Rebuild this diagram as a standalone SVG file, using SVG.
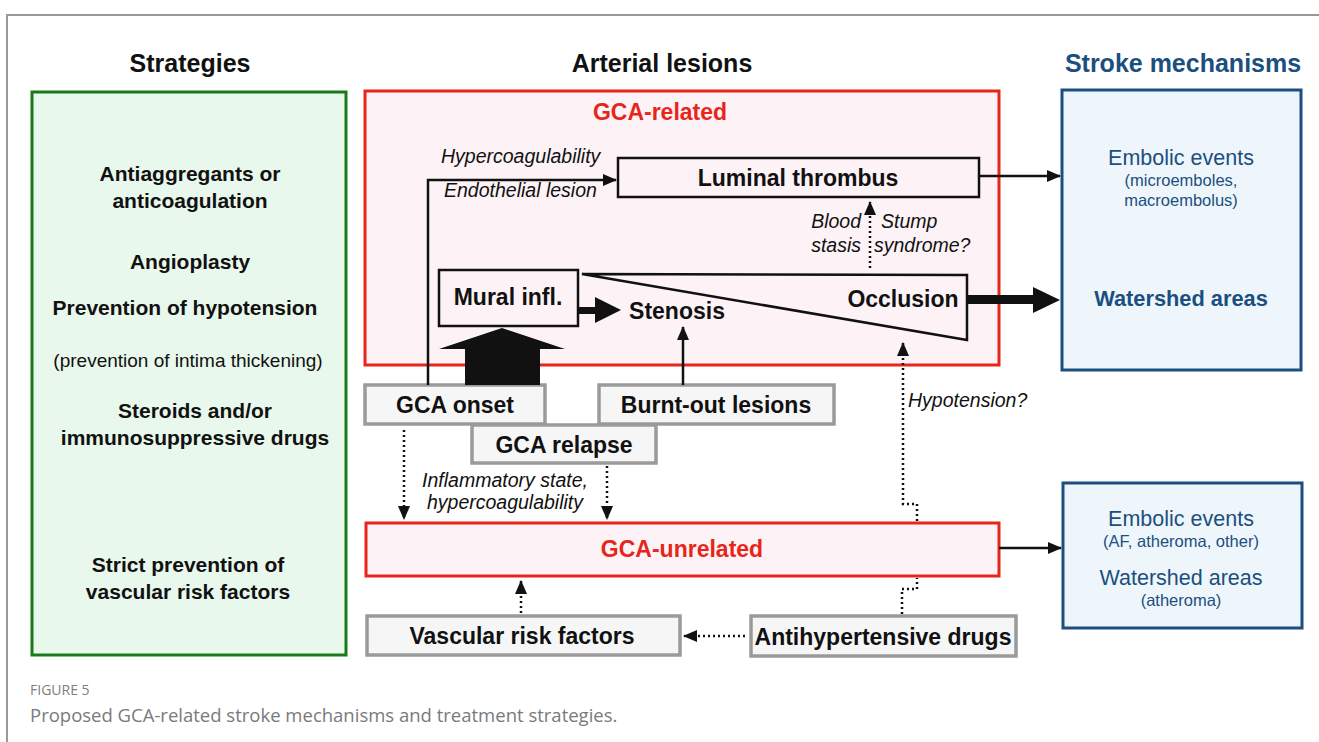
<svg xmlns="http://www.w3.org/2000/svg" width="1319" height="742" viewBox="0 0 1319 742">
<defs>
<style>
.hdr{font-family:"Liberation Sans",Arial,sans-serif;font-weight:bold;font-size:25px;text-anchor:middle}
.st{font-family:"Liberation Sans",Arial,sans-serif;font-weight:bold;font-size:21px;text-anchor:middle;fill:#111}
.nd{font-family:"Liberation Sans",Arial,sans-serif;font-weight:bold;font-size:23px;text-anchor:middle;fill:#111}
.it{font-family:"Liberation Sans",Arial,sans-serif;font-style:italic;font-size:19.5px;fill:#111}
.red{fill:#e8251a}
.blue{fill:#1b4f7f;font-family:"Liberation Sans",Arial,sans-serif;text-anchor:middle}
.box{fill:#fdf3f6;stroke:#111;stroke-width:2.5}
.gbox{fill:#f6f6f6;stroke:#9a9a9a;stroke-width:3.5}
.conn{fill:none;stroke:#111;stroke-width:2.5}
.dot{fill:none;stroke:#111;stroke-width:2.5;stroke-dasharray:2 3}
</style>
<marker id="ah" markerUnits="userSpaceOnUse" markerWidth="14" markerHeight="12" refX="13" refY="6" orient="auto">
<path d="M0,0 L14,6 L0,12 Z" fill="#111"/>
</marker>
</defs>
<rect x="0" y="0" width="1319" height="742" fill="#fff"/>
<path d="M7,742 V15 H1319" fill="none" stroke="#999" stroke-width="2"/>

<text class="hdr" x="190" y="72" fill="#111">Strategies</text>
<text class="hdr" x="662" y="72" fill="#111">Arterial lesions</text>
<text class="hdr" x="1183" y="72" fill="#1b4f7f">Stroke mechanisms</text>

<g id="strategies">
<rect x="32" y="92" width="314" height="563" fill="#e9f8ec" stroke="#1a7a1a" stroke-width="3"/>
<text class="st" x="190" y="181">Antiaggregants or</text>
<text class="st" x="190" y="208">anticoagulation</text>
<text class="st" x="190" y="269">Angioplasty</text>
<text class="st" x="185" y="315">Prevention of hypotension</text>
<text x="188" y="367" font-family="Liberation Sans, Arial, sans-serif" font-size="19" text-anchor="middle" fill="#111">(prevention of intima thickening)</text>
<text class="st" x="195" y="418">Steroids and/or</text>
<text class="st" x="195" y="445">immunosuppressive drugs</text>
<text class="st" x="188" y="572">Strict prevention of</text>
<text class="st" x="188" y="599">vascular risk factors</text>
</g>

<g id="gca-related">
<rect x="365" y="91" width="634" height="274" fill="#fdf3f6" stroke="#e8251a" stroke-width="3"/>
<text class="nd red" x="660" y="120" font-size="22">GCA-related</text>
</g>

<g id="luminal-thrombus">
<rect class="box" x="618" y="158" width="361" height="39"/>
<text class="nd" x="798" y="186">Luminal thrombus</text>
</g>

<g id="mural-infl">
<rect class="box" x="439" y="270" width="139" height="56"/>
<text class="nd" x="508" y="305">Mural infl.</text>
</g>

<g id="stenosis-occlusion">
<polygon points="582,274 967,275 967,340" fill="none" stroke="#111" stroke-width="2.5" stroke-linejoin="miter"/>
<text class="nd" x="677" y="319">Stenosis</text>
<text class="nd" x="903" y="307">Occlusion</text>
</g>

<g id="gca-onset">
<rect class="gbox" x="365" y="385" width="180" height="39"/>
<text class="nd" x="455" y="413">GCA onset</text>
</g>
<g id="burnt-out">
<rect class="gbox" x="599" y="385" width="235" height="39"/>
<text class="nd" x="716" y="413">Burnt-out lesions</text>
</g>
<g id="gca-relapse">
<rect class="gbox" x="472" y="425" width="184" height="38"/>
<text class="nd" x="564" y="453">GCA relapse</text>
</g>

<g id="gca-unrelated">
<rect x="366" y="523" width="633" height="53" fill="#fdf3f6" stroke="#e8251a" stroke-width="3"/>
<text class="nd red" x="682" y="557" font-size="22">GCA-unrelated</text>
</g>

<g id="vascular-risk">
<rect class="gbox" x="367" y="616" width="313" height="39"/>
<text class="nd" x="522" y="644">Vascular risk factors</text>
</g>
<g id="antihypertensive">
<rect class="gbox" x="751" y="616" width="265" height="40"/>
<text class="nd" x="883" y="645">Antihypertensive drugs</text>
</g>

<g id="stroke-gca">
<rect x="1062" y="90" width="239" height="280" fill="#eef6fc" stroke="#1b4f7f" stroke-width="3"/>
<text class="blue" x="1181" y="165" font-size="21.5">Embolic events</text>
<text class="blue" x="1181" y="186" font-size="16.5">(microemboles,</text>
<text class="blue" x="1181" y="206" font-size="16.5">macroembolus)</text>
<text class="blue" x="1181" y="306" font-size="21.8" font-weight="bold">Watershed areas</text>
</g>

<g id="stroke-other">
<rect x="1063" y="483" width="239" height="145" fill="#eef6fc" stroke="#1b4f7f" stroke-width="3"/>
<text class="blue" x="1181" y="526" font-size="21.5">Embolic events</text>
<text class="blue" x="1181" y="547" font-size="16.5">(AF, atheroma, other)</text>
<text class="blue" x="1181" y="585" font-size="21.5">Watershed areas</text>
<text class="blue" x="1181" y="606" font-size="16.5">(atheroma)</text>
</g>

<g id="connectors">
<path class="conn" d="M428,385 V180 H616" marker-end="url(#ah)"/>
<text class="it" x="441" y="163">Hypercoagulability</text>
<text class="it" x="444" y="197">Endothelial lesion</text>
<path class="conn" d="M979,176 H1060" marker-end="url(#ah)"/>
<path class="dot" d="M870,268 V202" marker-end="url(#ah)"/>
<text class="it" x="861" y="228" text-anchor="end">Blood</text>
<text class="it" x="861" y="252" text-anchor="end">stasis</text>
<text class="it" x="881" y="228">Stump</text>
<text class="it" x="874" y="252">syndrome?</text>
<polygon points="578,307 595,307 595,297 621,310 595,323 595,314 578,314" fill="#111"/>
<polygon points="465,385 465,349 439,349 502,328 565,349 540,349 540,385" fill="#111"/>
<path class="conn" d="M683,385 V327" marker-end="url(#ah)"/>
<polygon points="967,295 1033,295 1033,287 1060,300 1033,313 1033,304 967,304" fill="#111"/>
<path class="dot" d="M917,521 V504 H903 V343" marker-end="url(#ah)"/>
<text class="it" x="908" y="407">Hypotension?</text>
<path class="dot" d="M404,430 V519" marker-end="url(#ah)"/>
<path class="dot" d="M607,466 V519" marker-end="url(#ah)"/>
<text class="it" x="505" y="487" text-anchor="middle">Inflammatory state,</text>
<text class="it" x="505" y="509" text-anchor="middle">hypercoagulability</text>
<path class="conn" d="M999,548 H1061" marker-end="url(#ah)"/>
<path class="dot" d="M521,613 V581" marker-end="url(#ah)"/>
<path class="dot" d="M745,636 H684" marker-end="url(#ah)"/>
<path class="dot" d="M902,614 V589 H917 V578"/>
</g>

<text x="30" y="695" font-family="Open Sans, Liberation Sans, sans-serif" font-size="14" fill="#808080">FIGURE 5</text>
<text x="30" y="722" font-family="Open Sans, Liberation Sans, sans-serif" font-size="18.5" fill="#7a7a7a">Proposed GCA-related stroke mechanisms and treatment strategies.</text>
</svg>
